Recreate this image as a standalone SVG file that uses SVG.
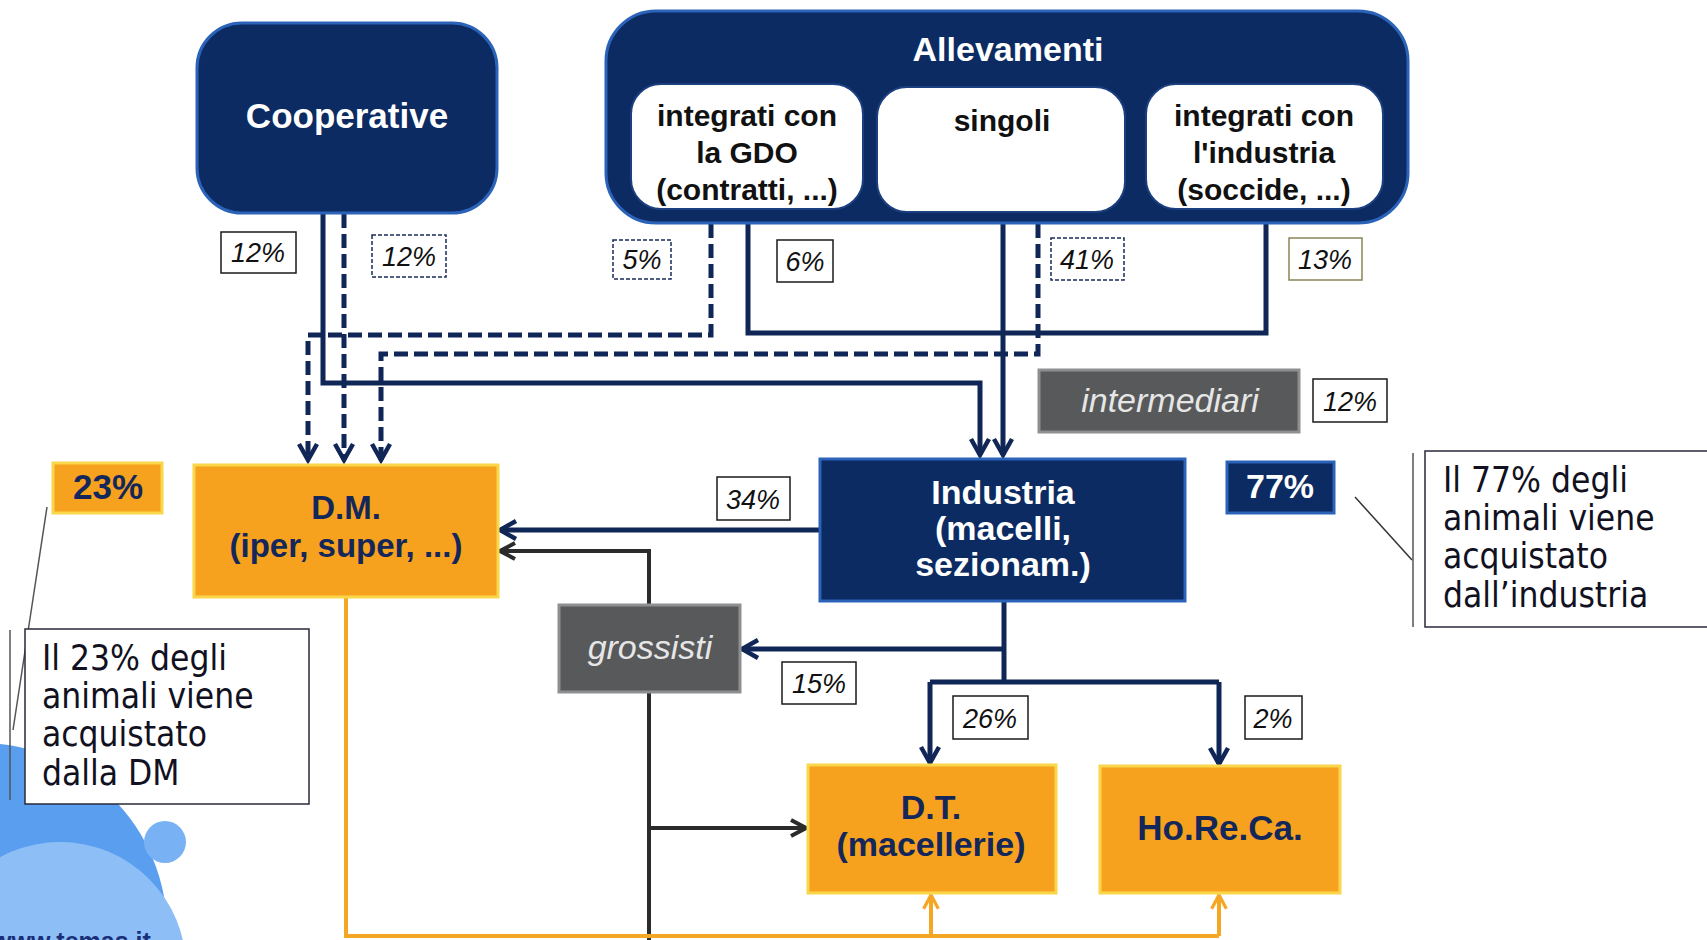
<svg xmlns="http://www.w3.org/2000/svg" width="1707" height="940" viewBox="0 0 1707 940">
<defs>
<style>
.navybox{fill:#0c2b62;stroke:#2a63b8;stroke-width:3}
.inner{fill:#ffffff;stroke:#1c3f80;stroke-width:2}
.orange{fill:#f7a21f;stroke:#fad64b;stroke-width:3}
.grey{fill:#58595b;stroke:#8e8f91;stroke-width:3}
.lbl{fill:#ffffff;stroke:#1a1a1a;stroke-width:1.5}
.lbld{fill:#ffffff;stroke:#1a2a5a;stroke-width:1.5;stroke-dasharray:4 2}
.call{fill:#ffffff;stroke:#2a2a3a;stroke-width:1.5}
.t{font-family:"Liberation Sans",Arial,sans-serif;text-anchor:middle}
.wb{fill:#ffffff;font-weight:bold}
.nb{fill:#14275a;font-weight:bold}
.kb{fill:#111111;font-weight:bold}
.pct{font-family:"Liberation Sans",Arial,sans-serif;font-style:italic;font-size:27px;fill:#111111;text-anchor:middle}
.gi{font-family:"Liberation Sans",Arial,sans-serif;font-style:italic;font-size:34px;fill:#e6e6e6;text-anchor:middle}
.ct{font-family:"DejaVu Sans Condensed","DejaVu Sans",sans-serif;font-stretch:condensed;font-size:35px;fill:#111122}
.sn{fill:none;stroke:#0f2656;stroke-width:5}
.dn{fill:none;stroke:#0f2656;stroke-width:5;stroke-dasharray:14 6}
.sg{fill:none;stroke:#2b2b2b;stroke-width:4}
.so{fill:none;stroke:#f5a623;stroke-width:4}
</style>
<marker id="an" markerUnits="userSpaceOnUse" viewBox="0 0 24 24" markerWidth="24" markerHeight="24" refX="20" refY="12" orient="auto">
<path d="M4,3 L20,12 L4,21" fill="none" stroke="#0f2656" stroke-width="4.5"/>
</marker>
<marker id="ag" markerUnits="userSpaceOnUse" viewBox="0 0 24 24" markerWidth="24" markerHeight="24" refX="20" refY="12" orient="auto">
<path d="M5,4 L20,12 L5,20" fill="none" stroke="#2b2b2b" stroke-width="4"/>
</marker>
<marker id="ao" markerUnits="userSpaceOnUse" viewBox="0 0 24 24" markerWidth="22" markerHeight="22" refX="20" refY="12" orient="auto">
<path d="M5,4 L20,12 L5,20" fill="none" stroke="#f5a623" stroke-width="3.5"/>
</marker>
</defs>
<rect x="0" y="0" width="1707" height="940" fill="#ffffff"/>

<g id="decoration">
<circle cx="-20" cy="930" r="187" fill="#5a9ef0"/>
<circle cx="60" cy="968" r="126" fill="#8dbff6"/>
<circle cx="165" cy="842" r="21" fill="#79b2f4"/>
<text x="-8" y="950" font-family="Liberation Sans, Arial, sans-serif" font-weight="bold" font-size="25" fill="#1a2f7a">www.temas.it</text>
</g>

<g id="connectors">
<path class="sn" d="M323,214 V383 H980 V455" marker-end="url(#an)"/>
<path class="dn" d="M344,214 V460" marker-end="url(#an)"/>
<path class="dn" d="M711,224 V335 H308 V460" marker-end="url(#an)"/>
<path class="dn" d="M1038,224 V354 H381 V460" marker-end="url(#an)"/>
<path class="sn" d="M748,224 V333 H1266 V224"/>
<path class="sn" d="M1003,224 V455" marker-end="url(#an)"/>
<path class="sn" d="M820,530 H500" marker-end="url(#an)"/>
<path class="sn" d="M1004,601 V682"/>
<path class="sn" d="M1004,649 H742" marker-end="url(#an)"/>
<path class="sn" d="M930,682 H1219"/>
<path class="sn" d="M930,682 V763" marker-end="url(#an)"/>
<path class="sn" d="M1219,682 V764" marker-end="url(#an)"/>
<path class="sg" d="M649,605 V551 H500" marker-end="url(#ag)"/>
<path class="sg" d="M649,692 V940"/>
<path class="sg" d="M649,828 H806" marker-end="url(#ag)"/>
<path class="so" d="M346,597 V936 H1219"/>
<path class="so" d="M931,936 V895" marker-end="url(#ao)"/>
<path class="so" d="M1219,936 V895" marker-end="url(#ao)"/>
<path d="M47,507 L13,730" fill="none" stroke="#555555" stroke-width="1.5"/>
<path d="M10,630 V800" fill="none" stroke="#555555" stroke-width="1.5"/>
<path d="M1355,497 L1412,560" fill="none" stroke="#333333" stroke-width="1.5"/>
<path d="M1413,453 V627" fill="none" stroke="#555555" stroke-width="1.5"/>
</g>

<g id="cooperative">
<rect class="navybox" x="197" y="23" width="300" height="190" rx="45"/>
<text class="t wb" x="347" y="128" font-size="35">Cooperative</text>
</g>

<g id="allevamenti">
<rect class="navybox" x="606" y="11" width="802" height="212" rx="50"/>
<text class="t wb" x="1008" y="61" font-size="34">Allevamenti</text>
</g>

<g id="integrati-gdo">
<rect class="inner" x="631" y="84" width="232" height="125" rx="30"/>
<text class="t kb" font-size="30"><tspan x="747" y="126">integrati con</tspan><tspan x="747" y="163">la GDO</tspan><tspan x="747" y="200">(contratti, ...)</tspan></text>
</g>

<g id="singoli">
<rect class="inner" x="877" y="87" width="248" height="125" rx="30"/>
<text class="t kb" x="1002" y="131" font-size="30">singoli</text>
</g>

<g id="integrati-industria">
<rect class="inner" x="1146" y="84" width="237" height="125" rx="30"/>
<text class="t kb" font-size="30"><tspan x="1264" y="126">integrati con</tspan><tspan x="1264" y="163">l'industria</tspan><tspan x="1264" y="200">(soccide, ...)</tspan></text>
</g>

<g id="labels">
<rect class="lbl" x="221" y="232" width="75" height="41"/><text class="pct" x="258" y="262">12%</text>
<rect class="lbld" x="372" y="235" width="74" height="42"/><text class="pct" x="409" y="266">12%</text>
<rect class="lbld" x="613" y="240" width="58" height="39"/><text class="pct" x="642" y="269">5%</text>
<rect class="lbl" x="777" y="240" width="56" height="42"/><text class="pct" x="805" y="271">6%</text>
<rect class="lbld" x="1051" y="238" width="73" height="42"/><text class="pct" x="1087" y="269">41%</text>
<rect class="lbl" x="1289" y="238" width="73" height="42" style="stroke:#8a8455"/><text class="pct" x="1325" y="269">13%</text>
<rect class="lbl" x="1313" y="379" width="74" height="43"/><text class="pct" x="1350" y="411">12%</text>
<rect class="lbl" x="717" y="477" width="73" height="43"/><text class="pct" x="753" y="509">34%</text>
<rect class="lbl" x="782" y="662" width="74" height="42"/><text class="pct" x="819" y="693">15%</text>
<rect class="lbl" x="953" y="696" width="75" height="43"/><text class="pct" x="990" y="728">26%</text>
<rect class="lbl" x="1245" y="696" width="57" height="43"/><text class="pct" x="1273" y="728">2%</text>
</g>

<g id="intermediari">
<rect class="grey" x="1039" y="370" width="260" height="62"/>
<text class="gi" x="1170" y="412">intermediari</text>
</g>

<g id="industria">
<rect class="navybox" x="820" y="459" width="365" height="142"/>
<text class="t wb" font-size="34"><tspan x="1003" y="504">Industria</tspan><tspan x="1003" y="540">(macelli,</tspan><tspan x="1003" y="576">sezionam.)</tspan></text>
</g>

<g id="pct77">
<rect class="navybox" x="1227" y="462" width="107" height="51"/>
<text class="t wb" x="1280" y="498" font-size="34">77%</text>
</g>

<g id="pct23">
<rect class="orange" x="53" y="463" width="109" height="50"/>
<text class="t nb" x="108" y="499" font-size="35">23%</text>
</g>

<g id="dm">
<rect class="orange" x="194" y="465" width="304" height="132"/>
<text class="t nb" x="346" y="519" font-size="33">D.M.</text>
<text class="t nb" x="346" y="557" font-size="33">(iper, super, ...)</text>
</g>

<g id="grossisti">
<rect class="grey" x="559" y="605" width="181" height="87"/>
<text class="gi" x="650" y="659">grossisti</text>
</g>

<g id="dt">
<rect class="orange" x="808" y="765" width="248" height="128"/>
<text class="t nb" font-size="34"><tspan x="931" y="819">D.T.</tspan><tspan x="931" y="856">(macellerie)</tspan></text>
</g>

<g id="horeca">
<rect class="orange" x="1100" y="766" width="240" height="127"/>
<text class="t nb" x="1220" y="840" font-size="35">Ho.Re.Ca.</text>
</g>

<g id="callout-dm">
<rect class="call" x="25" y="629" width="284" height="175"/>
<text class="ct"><tspan x="42" y="670">Il 23% degli</tspan><tspan x="42" y="708">animali viene</tspan><tspan x="42" y="746">acquistato</tspan><tspan x="42" y="785">dalla DM</tspan></text>
</g>

<g id="callout-industria">
<rect class="call" x="1425" y="451" width="290" height="176"/>
<text class="ct"><tspan x="1443" y="492">Il 77% degli</tspan><tspan x="1443" y="530">animali viene</tspan><tspan x="1443" y="568">acquistato</tspan><tspan x="1443" y="607">dall’industria</tspan></text>
</g>
</svg>
